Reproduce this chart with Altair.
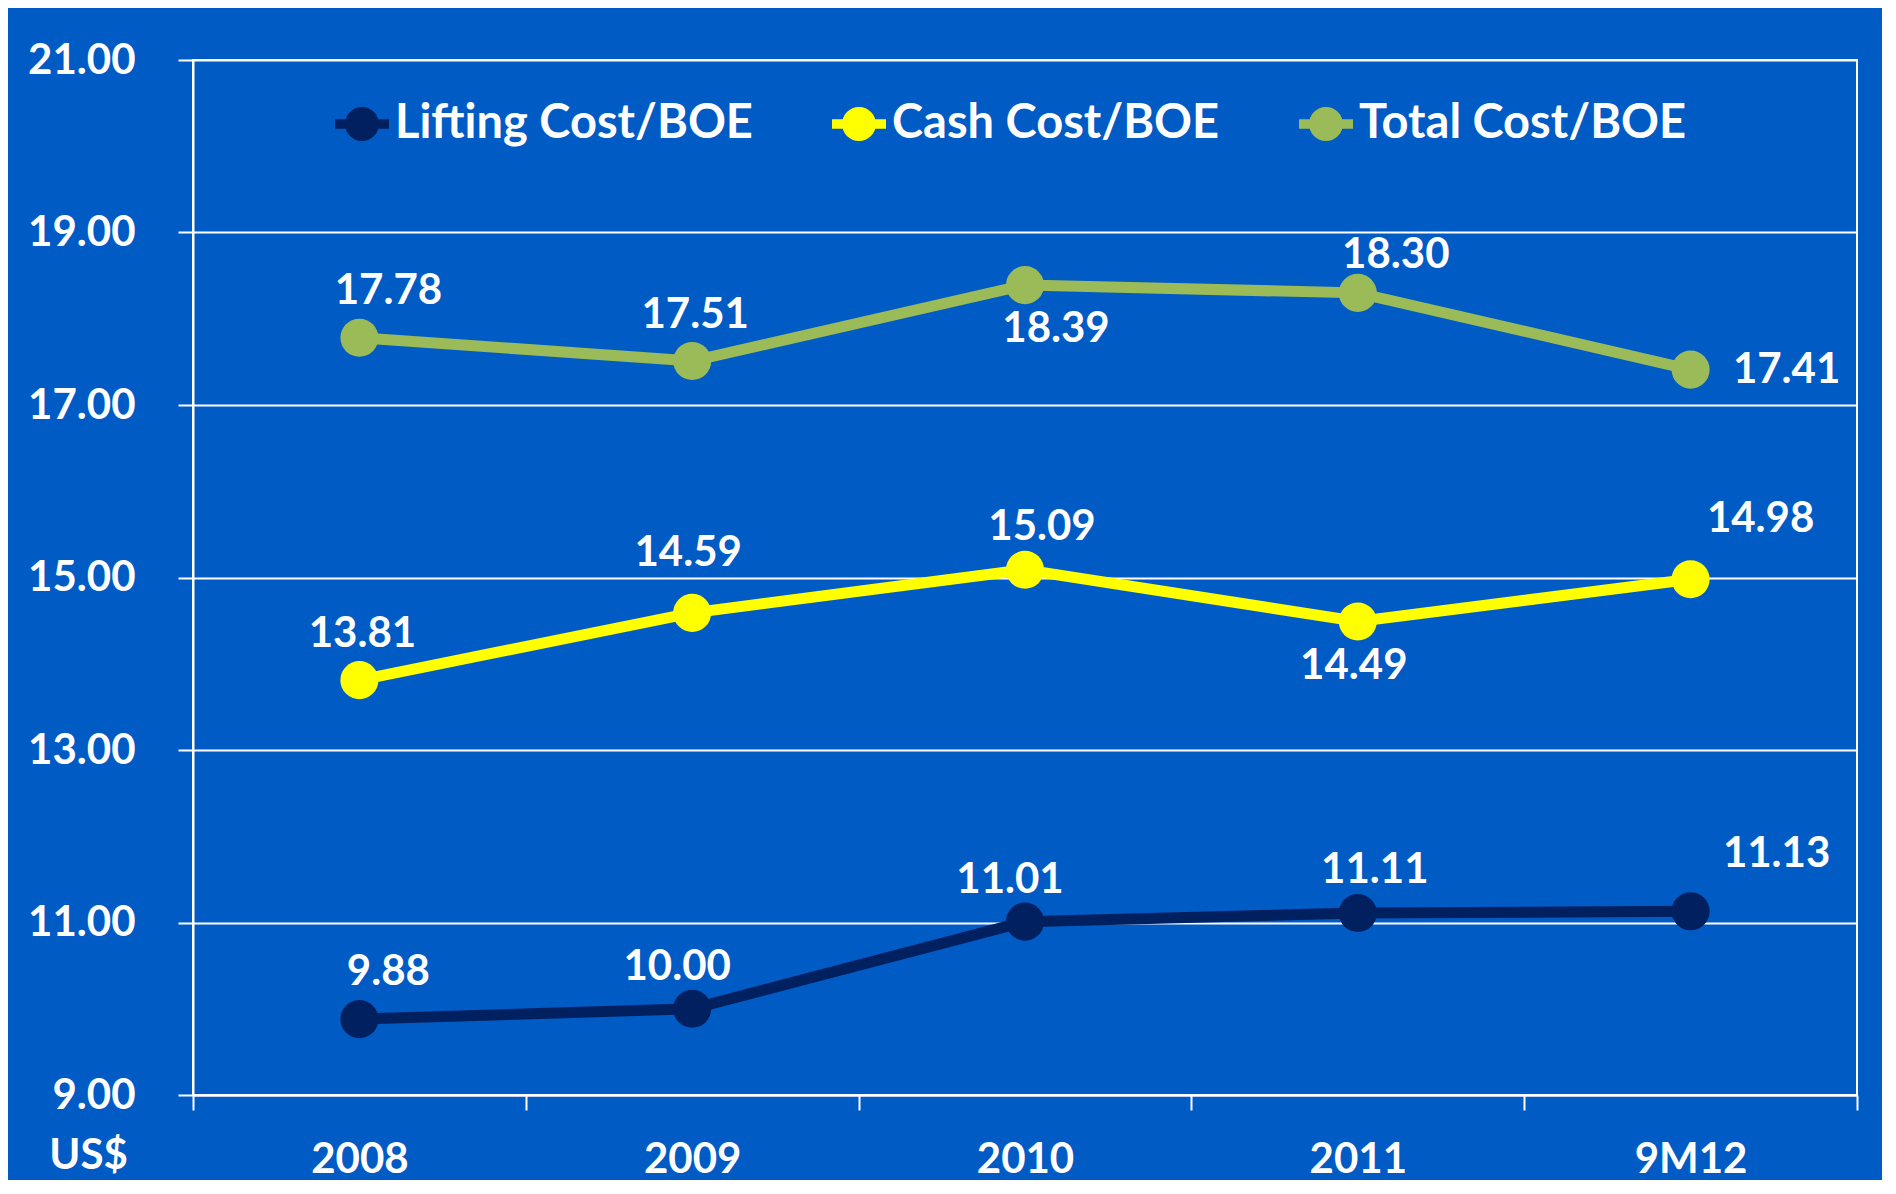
import altair as alt
import pandas as pd

categories = ["2008", "2009", "2010", "2011", "9M12"]
series_names = ["Lifting Cost/BOE", "Cash Cost/BOE", "Total Cost/BOE"]
lifting = [9.88, 10.00, 11.01, 11.11, 11.13]
cash = [13.81, 14.59, 15.09, 14.49, 14.98]
total = [17.78, 17.51, 18.39, 18.30, 17.41]
colors = ["#002060", "#FFFF00", "#9BBB59"]
y_ticks = [9, 11, 13, 15, 17, 19, 21]

# label placement kind for each data label
lifting_pos = ["ar", "al", "al", "ar3", "far2"]
cash_pos = ["a", "a2", "ar3", "b", "far"]
total_pos = ["ar", "a", "br", "ar2", "r"]
offsets = {"a": (3, -46), "a2": (-4, -60), "al": (-15, -42), "ar": (29, -47), "ar2": (38, -38),
           "ar3": (17, -43), "b": (-4, 45), "br": (31, 44), "r": (96, 0),
           "far": (70, -60), "far2": (86, -57)}

rows = []
for name, vals, pos in zip(series_names, [lifting, cash, total], [lifting_pos, cash_pos, total_pos]):
    for c, v, p in zip(categories, vals, pos):
        rows.append({"cat": c, "series": name, "value": v, "pos": p})
df = pd.DataFrame(rows)

FONT = "Lato"
BG = "#005BC5"

xenc = alt.X("cat:N", sort=categories,
             scale=alt.Scale(type="band", paddingInner=0, paddingOuter=0),
             axis=alt.Axis(title=None, tickBand="extent", grid=False, labelAngle=0,
                           domainColor="white", domainWidth=2, tickColor="white", tickWidth=2,
                           tickSize=15, labelPadding=29, labelFont=FONT, labelFontSize=42,
                           labelFontWeight="bold", labelColor="white"))
yenc = alt.Y("value:Q",
             scale=alt.Scale(domain=[9, 21], nice=False, zero=False),
             axis=alt.Axis(values=y_ticks, format=".2f", grid=True, gridColor="white", gridWidth=2,
                           domainColor="white", domainWidth=2, tickColor="white", tickWidth=2,
                           tickSize=15, labelPadding=43, labelFont=FONT, labelFontSize=42,
                           labelFontWeight="bold", labelColor="white",
                           title="US$", titleAngle=0, titleX=-105, titleY=1095,
                           titleAlign="center", titleBaseline="middle", titleFont=FONT,
                           titleFontSize=42, titleFontWeight="bold", titleColor="white"))

legend_path = ("M-1,-0.18L1,-0.18L1,0.18L-1,0.18Z"
               "M-0.63,0A0.63,0.63,0,1,1,0.63,0A0.63,0.63,0,1,1,-0.63,0Z")

legend = alt.Legend(orient="none", legendX=142, legendY=37, direction="horizontal",
                    title=None, symbolType=legend_path, symbolSize=2916,
                    symbolStrokeWidth=0, symbolOpacity=1,
                    labelFont=FONT, labelFontSize=47, labelFontWeight="bold",
                    labelColor="white", columnPadding=79, labelOffset=6,
                    labelLimit=800, padding=0)

color_scale = alt.Scale(domain=series_names, range=colors)

base = alt.Chart(df)

lines = base.mark_line(strokeWidth=11).encode(
    x=xenc, y=yenc,
    color=alt.Color("series:N", scale=color_scale, legend=legend),
)

points = base.mark_point(filled=True, size=1450, opacity=1, shape="circle").encode(
    x=xenc, y=yenc,
    color=alt.Color("series:N", scale=color_scale, legend=legend),
)

label_layers = []
for kind, (dx, dy) in offsets.items():
    label_layers.append(
        base.transform_filter(alt.datum.pos == kind).mark_text(
            dx=dx, dy=dy, font=FONT, fontSize=42, fontWeight="bold", color="white",
            align="center", baseline="middle"
        ).encode(x=xenc, y=yenc, text=alt.Text("value:Q", format=".2f"))
    )

chart = alt.layer(lines, points, *label_layers).properties(
    width=1664, height=1035,
    background=BG,
    padding={"left": 185, "top": 52, "right": 25, "bottom": 85},
    autosize=alt.AutoSizeParams(type="none"),
).configure_view(stroke="white", strokeWidth=2)

chart.save("out.html", embed_options={"renderer": "svg", "actions": False})
